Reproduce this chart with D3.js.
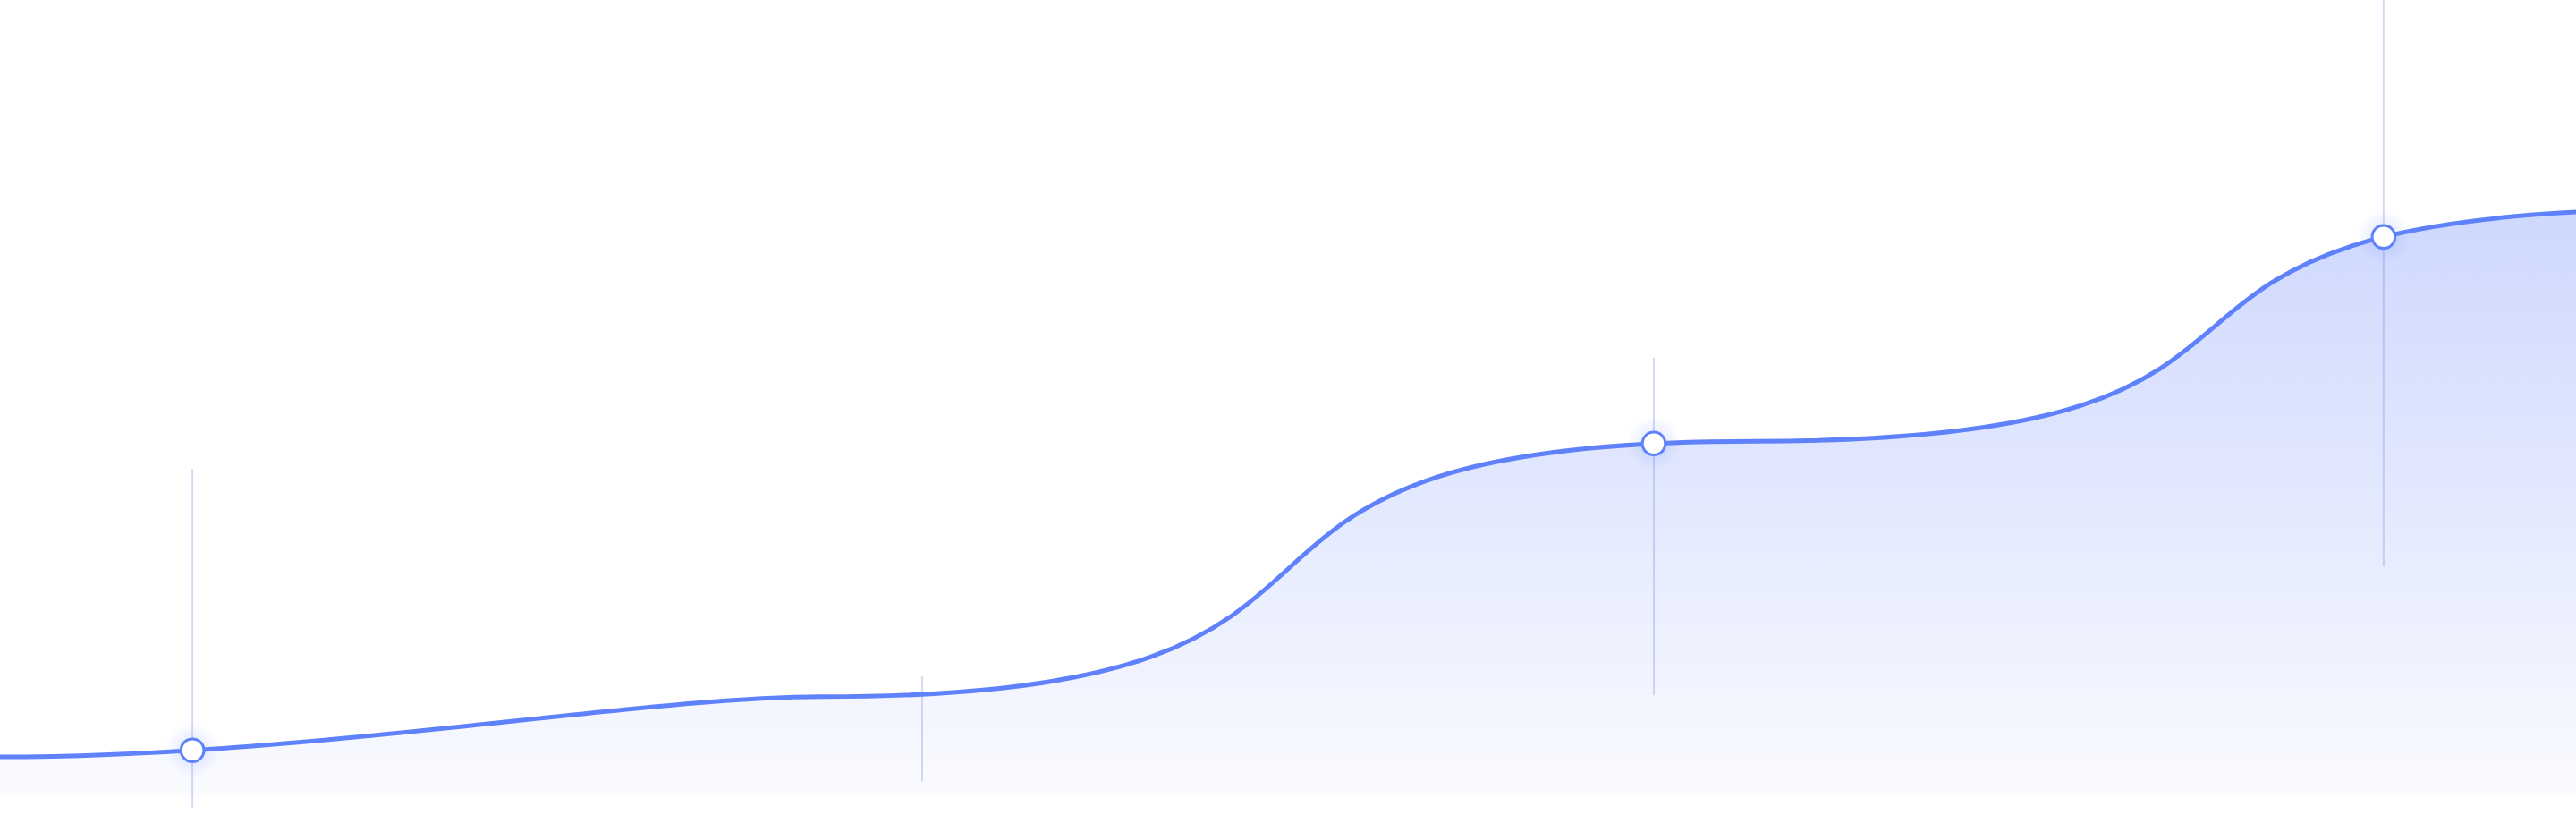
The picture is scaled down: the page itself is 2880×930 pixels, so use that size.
<!DOCTYPE html>
<html>
<head>
<meta charset="utf-8">
<script src="https://cdn.jsdelivr.net/npm/d3@7"></script>
<style>
  html, body { margin: 0; padding: 0; background: #fff; }
  svg { display: block; }
</style>
</head>
<body>
<svg id="area-chart" width="2880" height="930"></svg>
<script>
// curve nodes (x: 0-100 of the visible span, y: 0-100 value)
const xValues = [0, 31.9, 68.1, 104.5];
const yValues = [5.5, 13.9, 49.6, 82.0];
// how far each node's handle reaches into the next / previous segment
const handleOut = [0.38, 0.7, 0.7, 0];
const handleIn = [0, 0.22, 0.7, 0.72];

// highlighted positions with their guide lines
const markerX = [7.47, 35.8, 64.2, 92.53];
const markerDot = [true, false, true, true];
const guideTop = [45.75, 16.75, 61.25, 112];
const guideBottom = [-1.6, 2.1, 14.1, 32.1];

const svg = d3.select('#area-chart');
const width = +svg.attr('width');
const height = +svg.attr('height');

const lineColor = '#5f82fa';

const x = d3.scaleLinear().domain([0, 100]).range([0, width]);
const y = d3.scaleLinear().domain([0, 100]).range([890, 90]);

const data = xValues.map((v, i) => ({ x: v, y: yValues[i] }));

// like d3.curveBumpX, but the handle length of every node can differ
function curveHandles(outK, inK) {
    return function(context) {
        return {
            areaStart() { this._line = 0; },
            areaEnd() { this._line = NaN; },
            lineStart() { this._point = 0; this._i = 0; },
            lineEnd() {
                if (this._line || (this._line !== 0 && this._point === 1)) context.closePath();
                this._line = 1 - this._line;
            },
            point(px, py) {
                px = +px; py = +py;
                if (this._point === 0) {
                    this._point = 1;
                    if (this._line) context.lineTo(px, py); else context.moveTo(px, py);
                } else {
                    this._point = 2;
                    const i = this._i;
                    const dx = px - this._x0;
                    // the baseline of the area is flat, any handle will do there
                    const a = this._line ? 0.5 : (outK[i - 1] || 0.5);
                    const b = this._line ? 0.5 : (inK[i] || 0.5);
                    context.bezierCurveTo(this._x0 + a * dx, this._y0, px - b * dx, py, px, py);
                }
                this._x0 = px; this._y0 = py; this._i++;
            }
        };
    };
}

const curve = curveHandles(handleOut, handleIn);

const defs = svg.append('defs');

// area gradient
const grad = defs.append('linearGradient')
    .attr('id', 'fill-grad')
    .attr('gradientUnits', 'userSpaceOnUse')
    .attr('x1', 0).attr('x2', 0)
    .attr('y1', y(d3.max(yValues))).attr('y2', y(0));
grad.append('stop').attr('offset', '0%').attr('stop-color', '#6182fa').attr('stop-opacity', 0.31);
grad.append('stop').attr('offset', '45%').attr('stop-color', '#6182fa').attr('stop-opacity', 0.19);
grad.append('stop').attr('offset', '100%').attr('stop-color', '#6182fa').attr('stop-opacity', 0.03);

// soft halo round the dots
const glow = defs.append('radialGradient').attr('id', 'dot-glow');
glow.append('stop').attr('offset', '40%').attr('stop-color', '#6182fa').attr('stop-opacity', 0.14);
glow.append('stop').attr('offset', '100%').attr('stop-color', '#6182fa').attr('stop-opacity', 0);

const line = d3.line()
    .x(d => x(d.x))
    .y(d => y(d.y))
    .curve(curve);

const area = d3.area()
    .x(d => x(d.x))
    .y0(y(0))
    .y1(d => y(d.y))
    .curve(curve);

const g = svg.append('g');

// guide lines sit under the fill
g.selectAll('.guide')
    .data(markerX)
    .join('line')
    .attr('class', 'guide')
    .attr('x1', d => x(d))
    .attr('x2', d => x(d))
    .attr('y1', (d, i) => y(guideTop[i]))
    .attr('y2', (d, i) => y(guideBottom[i]))
    .attr('stroke', '#d3daf6')
    .attr('stroke-width', 2);

g.append('path')
    .datum(data)
    .attr('fill', 'url(#fill-grad)')
    .attr('d', area);

const path = g.append('path')
    .datum(data)
    .attr('fill', 'none')
    .attr('stroke', lineColor)
    .attr('stroke-width', 5)
    .attr('d', line);

// y of the drawn curve at a given x
const node = path.node();
const total = node.getTotalLength();
function yAt(px) {
    let lo = 0, hi = total;
    for (let k = 0; k < 40; k++) {
        const mid = (lo + hi) / 2;
        if (node.getPointAtLength(mid).x < px) lo = mid; else hi = mid;
    }
    return node.getPointAtLength((lo + hi) / 2).y;
}

const dots = markerX
    .map((d, i) => ({ cx: x(d), cy: yAt(x(d)), show: markerDot[i] }))
    .filter(d => d.show);

g.selectAll('.halo')
    .data(dots)
    .join('circle')
    .attr('class', 'halo')
    .attr('cx', d => d.cx)
    .attr('cy', d => d.cy)
    .attr('r', 30)
    .attr('fill', 'url(#dot-glow)');

g.selectAll('.dot')
    .data(dots)
    .join('circle')
    .attr('class', 'dot')
    .attr('cx', d => d.cx)
    .attr('cy', d => d.cy)
    .attr('r', 12.8)
    .attr('fill', '#fff')
    .attr('stroke', lineColor)
    .attr('stroke-width', 3);
</script>
</body>
</html>
